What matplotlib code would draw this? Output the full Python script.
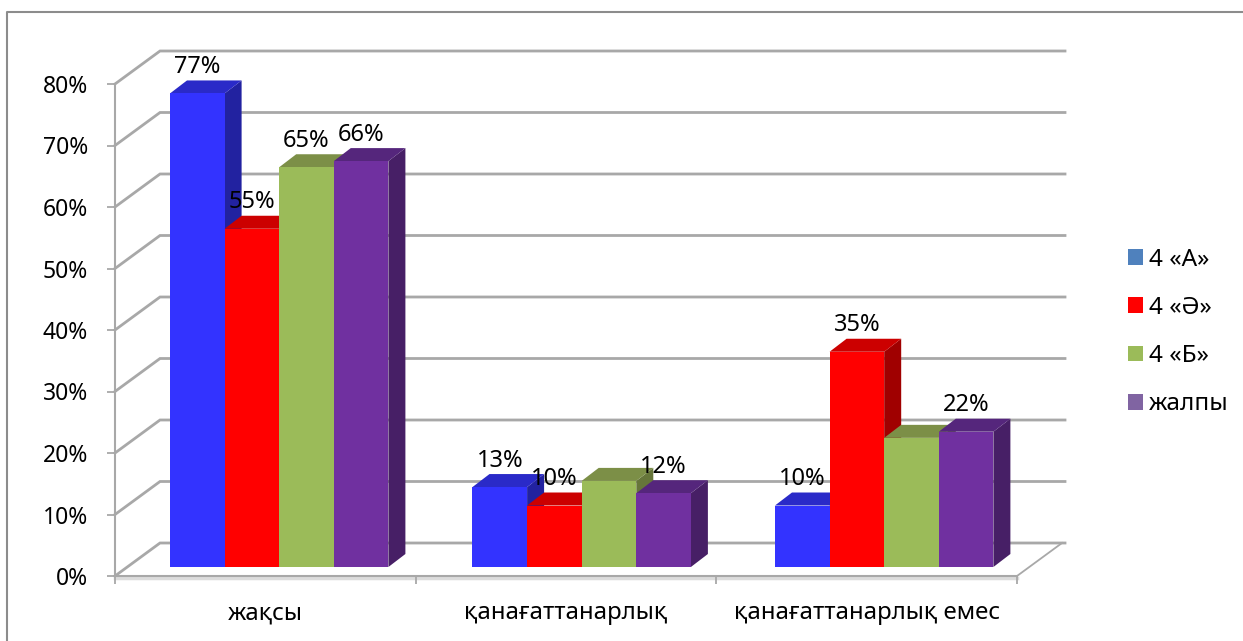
import matplotlib
matplotlib.use('Agg')
import matplotlib.pyplot as plt
from matplotlib.lines import Line2D
from matplotlib.patches import Patch, Polygon

categories = ['жақсы', 'қанағаттанарлық', 'қанағаттанарлық емес']
series_names = ['4 «А»', '4 «Ә»', '4 «Б»', 'жалпы']
vals_a = [77, 13, 10]
vals_ae = [55, 10, 35]
vals_b = [65, 14, 21]
vals_all = [66, 12, 22]
labels_a = ['77%', '13%', '10%']
labels_ae = ['55%', '10%', '35%']
labels_b = ['65%', '', '']
labels_all = ['66%', '12%', '22%']
ytick_vals = [0, 10, 20, 30, 40, 50, 60, 70, 80]

front_cols = ['#3333ff', '#ff0000', '#9bbb59', '#7030a0']
top_cols = ['#2a2ac8', '#cc0000', '#7c8f47', '#55267c']
side_cols = ['#2222a0', '#a00000', '#66763a', '#471f66']
legend_cols = ['#4f81bd', '#ff0000', '#9bbb59', '#8064a2']
GRID = '#a8a8a8'

W, H = 1243, 641
plt.rcParams['font.family'] = ['Noto Sans', 'DejaVu Sans']
fig = plt.figure(figsize=(W / 100, H / 100), dpi=100)
ax = fig.add_axes([115 / W, (H - 576) / H, (1017 - 115) / W, (576 - 84) / H])
ax.set_xlim(0, 3)
ax.set_ylim(0, 80)
ax.patch.set_visible(False)

# depth of the walls and the bars, in data units
wall_dx, wall_dy = 45 / 300.67, 33 / 6.15
bar_x0, bar_w = 55 / 300.67, 54.6 / 300.67
group_step = 302.5 / 300.67
base = 9 / 6.15
bar_dx, bar_dy = 17 / 300.67, 13 / 6.15

for y in ytick_vals:
    ax.plot([0, wall_dx, 3.01 + wall_dx], [y, y + wall_dy, y + wall_dy], color=GRID, lw=2,
            clip_on=False, zorder=1, solid_joinstyle='miter')
ax.plot([3, 3 + wall_dx], [0, wall_dy], color=GRID, lw=1.3, clip_on=False, zorder=1)
ax.plot([0, 3], [-0.35, -0.35], color='#dcdcdc', lw=2.5, clip_on=False, zorder=1)

all_vals = [vals_a, vals_ae, vals_b, vals_all]
all_labels = [labels_a, labels_ae, labels_b, labels_all]
for g in range(len(categories)):
    for s in range(4):
        v = all_vals[s][g]
        x0 = g * group_step + bar_x0 + s * bar_w
        x1 = x0 + bar_w
        top = v + base
        ax.add_patch(Polygon([(x1, base), (x1 + bar_dx, base + bar_dy), (x1 + bar_dx, top + bar_dy), (x1, top)],
                             fc=side_cols[s], ec='none', zorder=3, clip_on=False))
        ax.add_patch(Polygon([(x0, top), (x0 + bar_dx, top + bar_dy), (x1 + bar_dx, top + bar_dy), (x1, top)],
                             fc=top_cols[s], ec='none', zorder=3, clip_on=False))
        ax.add_patch(Polygon([(x0, base), (x1, base), (x1, top), (x0, top)],
                             fc=front_cols[s], ec='none', zorder=3, clip_on=False))
        if all_labels[s][g]:
            ax.text((x0 + x1) / 2, top + 26.5 / 6.15, all_labels[s][g], ha='center', va='center',
                    fontsize=17, color='black', zorder=5, clip_on=False)

for side in ['top', 'right']:
    ax.spines[side].set_visible(False)
for side in ['left', 'bottom']:
    ax.spines[side].set_color(GRID)
    ax.spines[side].set_linewidth(1.5)
    ax.spines[side].set_zorder(2)

ax.set_yticks(ytick_vals)
ax.set_yticklabels([f'{y}%' for y in ytick_vals])
ax.set_xticks([0, 1, 2, 3])
ax.set_xticklabels([])
ax.set_xticks([0.5, 1.5, 2.5], minor=True)
ax.set_xticklabels(categories, minor=True)
ax.tick_params(axis='x', which='minor', length=0, pad=18, labelsize=17.3)
ax.tick_params(axis='x', which='major', length=6, width=1.3, color=GRID)
ax.tick_params(axis='y', length=6, width=1.3, color=GRID, pad=13.5, labelsize=16.5)

handles = [Patch(fc=c, ec='none') for c in legend_cols]
ax.legend(handles, series_names, loc='center left', bbox_to_anchor=(1118 / W, (H - 332) / H),
          bbox_transform=fig.transFigure, frameon=False, fontsize=17.5, handlelength=0.62, handleheight=0.62,
          handletextpad=0.25, labelspacing=1.0, borderpad=0, borderaxespad=0.4)

# outer frame of the chart area
fig.add_artist(Line2D([7 / W, 7 / W, 1], [0, 1 - 12 / H, 1 - 12 / H], color='#8c8c8c', lw=1.5))

fig.savefig('out.png', dpi=100)
